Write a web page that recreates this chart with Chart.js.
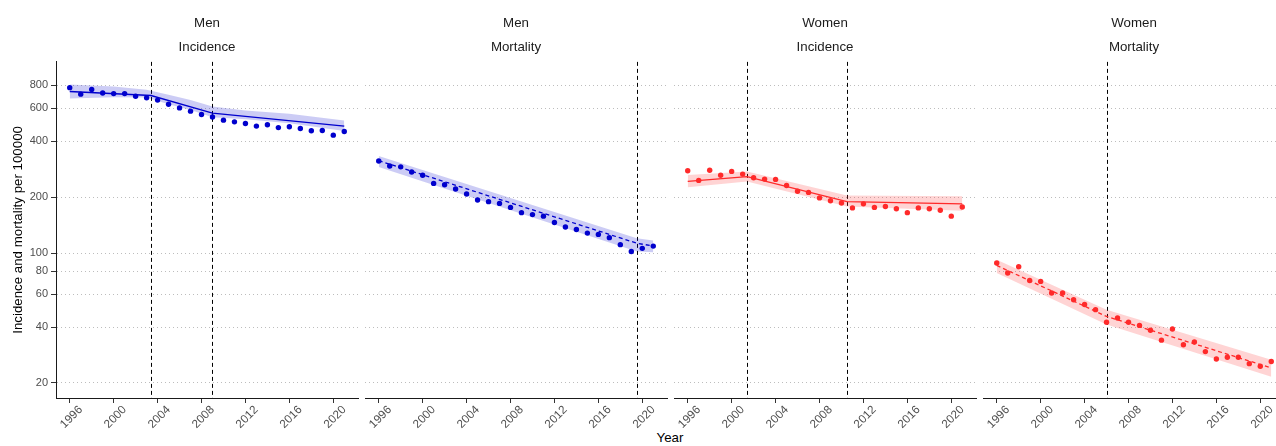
<!DOCTYPE html>
<html>
<head>
<meta charset="utf-8">
<script src="https://cdn.jsdelivr.net/npm/chart.js@4.4.1/dist/chart.umd.min.js"></script>
<style>
  html, body { margin: 0; padding: 0; background: #fff; overflow: hidden; width: 1276px; height: 446px; }
  #wrap { position: relative; width: 1300px; height: 446px; overflow: hidden; }
  #xtitle { position: absolute; left: 620px; width: 100px; top: 430px; text-align: center;
            font-family: 'Liberation Sans', Arial, sans-serif; font-size: 13.3px; line-height: 16px; color: #000; }
</style>
</head>
<body>
<div id="wrap">
  <div id="xtitle">Year</div>
</div>
<script>
// ---------------- data ----------------
const years = [1996,1997,1998,1999,2000,2001,2002,2003,2004,2005,2006,2007,2008,2009,2010,2011,2012,2013,2014,2015,2016,2017,2018,2019,2020,2021];
const xTicks = [1996,2000,2004,2008,2012,2016,2020];
const yTicks = [20,40,60,80,100,200,400,600,800];
const sexLabels = ['Men','Men','Women','Women'];
const measureLabels = ['Incidence','Mortality','Incidence','Mortality'];
const yTitle = 'Incidence and mortality per 100000';

// observed rates
const menIncidence   = [776,716,758,727,721,721,698,684,665,632,604,580,556,540,519,508,498,482,490,473,478,468,455,456,431,451];
const menMortality   = [313,294,291,273,262,237,233,221,208,193,189,185,176,165,161,158,146,138,134,128,126,121,111,102,106,109];
const womenIncidence = [277,246,279,262,275,266,254,250,249,231,215,212,198,191,186,175,184,176,178,173,165,175,173,170,158,177];
const womenMortality = [88.4,78.1,84.4,71.2,70.4,61,61,56.1,52.9,49.6,42.4,44.7,42.4,40.8,38.4,34,39,32.1,33.2,29.5,26.9,27.5,27.5,25.4,24.6,26.1];

// fitted joinpoint models (vertices)
const menIncFitYears = [1996,2003.4,2009,2021];
const menIncFit      = [740,704,566,482];
const menMortFitYears = [1996,2019.5,2021];
const menMortFit      = [314,113,109];
const womenIncFitYears = [1996,2001.4,2010.5,2021];
const womenIncFit      = [243,258,189,184];
const womenMortFitYears = [1996,2006,2021];
const womenMortFit      = [85.8,45.6,24.1];

// confidence bands
const menIncBandYears = [1996,2000,2003,2005,2007,2009,2012,2016,2021];
const menIncUpper     = [807,787,755,710,667,614,585,561,517];
const menIncLower     = [678,690,687,632,589,538,525,500,453];
const menMortBandYears = [1996,2019.5,2021];
const menMortUpper     = [333,120,117];
const menMortLower     = [290,102,101];
const womenIncBandYears = [1996,2001.4,2010.5,2021];
const womenIncUpper     = [263,275,204,202];
const womenIncLower     = [226,243,178,169];
const womenMortBandYears = [1996,2006,2021];
const womenMortUpper     = [92,49.6,26.7];
const womenMortLower     = [78,41.2,21.6];

// joinpoints
const menIncJP = [2003.4, 2009.0];
const menMortJP = [2019.5];
const womenIncJP = [2001.4, 2010.5];
const womenMortJP = [2006.0];

// ---------------- styling / layout ----------------
const FONT = "'Liberation Sans', Arial, Helvetica, sans-serif";
const BLUE = '#0000CD', BLUE_BAND = 'rgba(0,0,205,0.2)';
const RED = '#FF2A2A', RED_BAND = 'rgba(255,42,42,0.2)';
const PANEL_LEFTS = [56, 365, 674, 983];
const PANEL_W = 302;
const H = 446;

const panels = [
  {obs: menIncidence,   fx: menIncFitYears,   fy: menIncFit,   bx: menIncBandYears,   bu: menIncUpper,   bl: menIncLower,   jp: menIncJP,   col: BLUE, band: BLUE_BAND, dash: []},
  {obs: menMortality,   fx: menMortFitYears,  fy: menMortFit,  bx: menMortBandYears,  bu: menMortUpper,  bl: menMortLower,  jp: menMortJP,  col: BLUE, band: BLUE_BAND, dash: [4,3]},
  {obs: womenIncidence, fx: womenIncFitYears, fy: womenIncFit, bx: womenIncBandYears, bu: womenIncUpper, bl: womenIncLower, jp: womenIncJP, col: RED,  band: RED_BAND,  dash: []},
  {obs: womenMortality, fx: womenMortFitYears,fy: womenMortFit,bx: womenMortBandYears,bu: womenMortUpper,bl: womenMortLower,jp: womenMortJP,col: RED,  band: RED_BAND,  dash: [4,3]}
];

const zip = (xs, ys) => xs.map((x, k) => ({x: x, y: ys[k]}));

const jpPlugin = {
  id: 'jp',
  beforeDatasetsDraw(chart, args, opts) {
    const {ctx, chartArea, scales} = chart;
    ctx.save();
    ctx.strokeStyle = '#000';
    ctx.lineWidth = 1;
    ctx.setLineDash([4, 3]);
    (opts.years || []).forEach(v => {
      const px = Math.round(scales.x.getPixelForValue(v)) + 0.5;
      ctx.beginPath();
      ctx.moveTo(px, chartArea.top);
      ctx.lineTo(px, chartArea.bottom);
      ctx.stroke();
    });
    ctx.restore();
  }
};

const wrap = document.getElementById('wrap');

panels.forEach((p, i) => {
  const first = i === 0;
  const left = first ? 0 : PANEL_LEFTS[i] - 4;
  const w = first ? PANEL_LEFTS[0] + PANEL_W + 4 : PANEL_W + 8;
  const c = document.createElement('canvas');
  c.width = w; c.height = H;
  c.style.position = 'absolute';
  c.style.left = left + 'px';
  c.style.top = '0px';
  c.style.width = w + 'px';
  c.style.height = H + 'px';
  wrap.appendChild(c);

  new Chart(c, {
    type: 'line',
    data: {
      datasets: [
        {label: 'fit', data: zip(p.fx, p.fy), borderColor: p.col, borderWidth: 1.3, borderDash: p.dash,
         pointRadius: 0, fill: false, tension: 0},
        {label: 'obs', data: zip(years, p.obs), showLine: false, pointRadius: 2.7, pointBorderWidth: 0,
         pointBackgroundColor: p.col, pointBorderColor: p.col, pointHoverRadius: 2.7},
        {label: 'upper', data: zip(p.bx, p.bu), borderWidth: 0, pointRadius: 0, borderColor: 'rgba(0,0,0,0)',
         backgroundColor: p.band, fill: '+1', tension: 0},
        {label: 'lower', data: zip(p.bx, p.bl), borderWidth: 0, pointRadius: 0, borderColor: 'rgba(0,0,0,0)',
         fill: false, tension: 0}
      ]
    },
    options: {
      responsive: false,
      animation: false,
      devicePixelRatio: 1,
      events: [],
      layout: {padding: {left: first ? 0 : 4, right: 4, top: 0, bottom: 0}},
      plugins: {
        legend: {display: false},
        tooltip: {enabled: false},
        title: {
          display: true,
          text: [sexLabels[i], measureLabels[i]],
          fullSize: false,
          color: '#1A1A1A',
          font: {family: FONT, size: 13.3, weight: 'normal', lineHeight: 1.8},
          padding: {top: 11, bottom: 3}
        },
        jp: {years: p.jp}
      },
      scales: {
        x: {
          type: 'linear',
          min: 1994.75,
          max: 2022.25,
          afterBuildTicks: s => { s.ticks = xTicks.map(v => ({value: v})); },
          afterFit: s => { s.height = 48; s.paddingLeft = 0; s.paddingRight = 0; },
          grid: {drawOnChartArea: false, drawTicks: true, tickLength: 5, tickColor: '#333', color: '#333'},
          border: {display: true, color: '#1a1a1a', width: 1},
          ticks: {
            autoSkip: false, minRotation: 45, maxRotation: 45, padding: 0, labelOffset: 11,
            color: '#4D4D4D', font: {family: FONT, size: 11.7},
            callback: v => String(v)
          }
        },
        y: {
          type: 'logarithmic',
          min: 16.6,
          max: 1068,
          afterBuildTicks: s => { s.ticks = yTicks.map(v => ({value: v})); },
          afterFit: s => { s.width = first ? PANEL_LEFTS[0] : 0; s.paddingTop = 0; s.paddingBottom = 0; },
          grid: {color: '#BDBDBD', lineWidth: 1, drawTicks: first, tickLength: 5, tickColor: '#333', tickBorderDash: []},
          border: {display: first, color: '#1a1a1a', width: 1, dash: [1, 3]},
          ticks: {
            display: first, padding: 3, color: '#4D4D4D', font: {family: FONT, size: 11},
            callback: v => String(v)
          },
          title: {
            display: first, text: yTitle, color: '#000',
            font: {family: FONT, size: 13.3}, padding: {top: 10, bottom: 0}
          }
        }
      }
    },
    plugins: [jpPlugin]
  });
});
</script>
</body>
</html>
